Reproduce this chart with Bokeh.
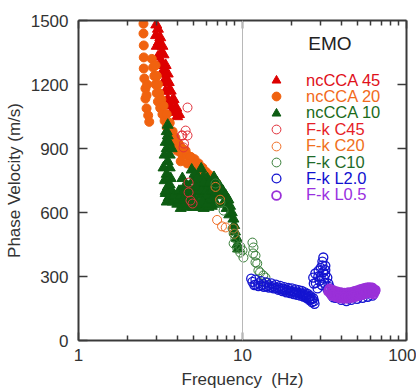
from bokeh.plotting import figure
from bokeh.models import (FixedTicker, LogAxis, LinearAxis, Span, Legend,
                          LegendItem, Label, CustomJSTickFormatter)
from bokeh.embed import file_html
from bokeh.resources import INLINE

# ---------------- data (frequency Hz, phase velocity m/s) ----------------
nc45_f = [2.98, 2.97, 3.0, 3.05, 3.1, 3.2, 3.3, 3.4, 3.5, 3.6, 3.7,
          3.05, 3.15, 3.25, 3.3, 3.4, 3.5, 3.55, 3.65, 3.8, 3.95, 4.1,
          3.1, 3.2, 3.25, 3.35, 3.45, 3.55, 3.7, 3.85, 4.0]
nc45_v = [1480, 1430, 1380, 1330, 1290, 1250, 1210, 1170, 1130, 1100, 1070,
          1460, 1420, 1380, 1340, 1290, 1250, 1210, 1170, 1130, 1090, 1060,
          1400, 1350, 1300, 1260, 1220, 1170, 1120, 1080, 1050]

nc20_f = [2.49, 2.49, 2.5, 2.5, 2.5, 2.52, 2.56, 2.56, 2.6, 2.66, 2.7, 2.6, 2.62,
          2.8, 2.85, 2.9, 2.95, 3.0, 3.05, 3.15, 3.25, 3.35, 3.45, 3.55, 3.7,
          3.85, 4.0, 4.2, 4.4, 4.6, 4.85, 5.1, 5.4, 5.7, 6.0, 6.3, 6.6, 6.9,
          2.95, 3.0, 3.05, 3.1, 3.2, 3.3, 3.45, 3.6, 3.75, 3.9, 4.1, 4.3, 4.5, 4.8,
          4.2, 4.6, 5.0, 5.4, 5.8, 6.2, 6.6, 7.0]
nc20_v = [1485, 1439, 1383, 1327, 1275, 1228, 1181, 1134, 1088, 1055, 1025, 1150, 1200,
          1320, 1280, 1240, 1200, 1160, 1120, 1090, 1060, 1030, 1000, 970, 940,
          910, 890, 880, 875, 870, 860, 850, 830, 810, 790, 775, 760, 740,
          1290, 1240, 1200, 1160, 1130, 1100, 1060, 1020, 980, 950, 920, 900, 890, 860,
          840, 830, 820, 800, 780, 760, 740, 720]

nc10_f = [3.5, 3.45, 3.5, 3.4, 3.55, 3.45, 3.35, 3.6, 3.5, 3.3, 3.6, 3.45, 3.35,
          3.65, 3.5, 3.4, 3.7, 3.55, 3.45, 3.75, 3.85,
          4.0, 4.2, 4.3, 4.5, 4.6, 4.7, 4.9, 5.0, 5.0, 5.2, 5.4, 5.6, 5.7, 5.9,
          6.1, 6.3, 6.5, 6.7, 6.8, 4.4, 5.5, 6.0, 6.9,
          4.1, 4.3, 4.5, 4.7, 4.8, 5.1, 5.3, 5.5, 5.8, 5.9, 6.2, 6.4, 6.6,
          4.2, 4.6, 5.0, 5.4, 5.8, 6.2, 6.6, 7.1, 7.4, 7.8, 8.0, 8.3, 7.6,
          4.0, 4.1, 4.2, 4.4, 4.6, 4.8, 4.9, 5.1, 5.2, 5.3, 5.5, 5.6, 5.8, 6.0,
          6.1, 6.3, 6.5, 6.7, 6.8, 4.4, 4.9, 5.3, 5.7, 6.1, 6.5, 3.6, 3.4, 3.7,
          7.0, 7.3, 7.6, 7.9, 8.2, 8.4, 8.6, 8.8, 8.9, 9.0, 9.2, 9.3, 9.4]
nc10_v = [1010, 980, 960, 930, 930, 900, 870, 870, 840, 810, 810, 780, 750,
          760, 720, 690, 700, 670, 650, 650, 680,
          650, 700, 640, 730, 680, 630, 800, 750, 700, 640, 760, 805, 720, 650,
          760, 700, 630, 765, 720, 640, 635, 635, 680,
          700, 760, 680, 720, 660, 780, 700, 740, 770, 700, 720, 680, 720,
          620, 625, 625, 625, 620, 625, 640, 700, 680, 650, 620, 590, 640,
          640, 660, 680, 700, 720, 700, 680, 660, 720, 760, 680, 700, 740, 700,
          680, 740, 700, 680, 650, 670, 640, 640, 650, 640, 660, 730, 700, 900,
          740, 720, 700, 680, 660, 630, 600, 570, 540, 510, 480, 450, 430]

fk45_f = [4.62, 4.5, 4.3, 4.62, 4.37, 4.4, 4.25, 4.69, 4.69, 4.82, 4.96]
fk45_v = [1092, 984, 961, 961, 905, 923, 961, 740, 694, 656, 642]

fk20_f = [6.85, 7.3, 7.0, 7.5, 7.9, 8.8, 8.9]
fk20_v = [720, 660, 565, 535, 530, 525, 500]

fk10_f = [6.85, 7.33, 7.67, 8.7, 8.83, 9.05, 8.83, 9.3, 9.7, 10.13, 10.0, 9.7,
          11.5, 11.66, 12.0, 12.3, 12.5, 13.4, 13.8, 13.8, 11.6, 12.0, 12.8]
fk10_v = [736, 647, 609, 525, 502, 478, 455, 431, 412, 389, 422, 440,
          459, 436, 398, 361, 328, 305, 295, 272, 408, 366, 319]

fkL2_f = [11.3, 12, 13, 14, 15, 16, 17, 18, 19, 20, 21, 22, 23, 24, 25, 26, 27,
          11.8, 12.5, 13.5, 14.5, 15.5, 16.5, 17.5, 18.5, 19.5, 20.5, 21.5, 22.5,
          23.5, 24.5, 25.5, 26.5, 27.5,
          11.5, 12.5, 13.5, 14.5, 15.5, 16.5, 17.5, 18.5, 19.5, 20.5, 21.5, 22.5,
          23.5, 24.5, 25.5, 26.5, 27.3,
          12, 13, 14, 15, 16, 17, 18, 19, 20, 21, 22, 23, 24, 25, 26,
          31.1, 30.7, 30.7, 29.1, 27.8, 27.0, 27.2, 28.7, 30, 31, 32, 32.9, 33.4,
          35.3, 35.8, 29.5, 30.5, 31.5, 34, 32, 30, 32, 29, 28, 33, 34.5, 31.5,
          37, 40, 43, 46, 50, 54, 58, 62, 40, 50]
fkL2_v = [290, 285, 278, 272, 268, 262, 256, 250, 246, 244, 240, 236, 232, 226, 218, 208, 198,
          260, 255, 252, 248, 244, 238, 232, 226, 222, 218, 214, 210,
          206, 200, 190, 180, 172,
          275, 268, 263, 258, 254, 248, 242, 238, 234, 230, 226, 222,
          218, 212, 204, 194, 185,
          262, 258, 254, 250, 246, 240, 235, 230, 228, 224, 220, 215, 208, 200, 192,
          389, 370, 352, 328, 314, 295, 267, 244, 300, 320, 330, 295, 267,
          234, 202, 280, 260, 290, 250, 310, 340, 350, 300, 270, 240, 220, 270,
          200, 190, 185, 190, 195, 200, 205, 210, 215, 215]

fkL05_f = [33.5, 34.5, 36, 37.5, 39, 40.5, 42, 44, 46, 48, 50, 52, 54, 56, 58, 60, 62, 64,
           34, 36, 38, 40, 42, 44, 46, 48, 50, 52, 54, 56, 58, 60, 62,
           35, 37, 39, 41, 43, 45, 47, 49, 51, 53, 55, 57, 59, 61, 63,
           33.8, 35.2, 36.8, 38.2, 39.8, 41.2, 42.8, 45, 47, 49, 51, 53, 55, 57,
           59, 61, 63, 64.5, 35.5, 38.5, 41.5, 44.5, 47.5, 50.5, 53.5, 56.5, 59.5, 62.5]
fkL05_v = [230, 225, 220, 215, 212, 210, 208, 210, 212, 215, 220, 225, 228, 232, 235, 236, 234, 230,
           242, 234, 228, 224, 222, 224, 226, 230, 234, 238, 242, 245, 248, 248, 246,
           212, 205, 200, 198, 198, 200, 202, 206, 210, 214, 218, 222, 224, 222, 218,
           236, 228, 222, 220, 216, 214, 214, 216, 218, 222, 226, 230, 234, 238,
           240, 240, 238, 236, 214, 206, 204, 204, 208, 214, 220, 228, 232, 226]

x_major = [1, 10, 100]
x_minor = [2, 3, 4, 5, 6, 7, 8, 9, 20, 30, 40, 50, 60, 70, 80, 90]
y_ticks = [0, 300, 600, 900, 1200, 1500]
y_right_ticks = [300, 600, 900, 1200]

labels = ["ncCCA 45", "ncCCA 20", "ncCCA 10", "F-k C45", "F-k C20",
          "F-k C10", "F-k L2.0", "F-k L0.5"]

# ---------------- style ----------------
FONT = "Liberation Sans"
AX = "#3a3a3a"
C45 = "#dd0000"
C20 = "#f0620f"
C10 = "#0d5c12"
O45 = "#e2303a"
O20 = "#f07028"
O10 = "#3a7f3a"
OL2 = "#1414d0"
OL05 = "#9a30d8"
text_colors = ["#e0101a", "#f26a1b", "#1b6b1b", "#e61e28", "#f07020",
               "#1f6b2a", "#1010d0", "#9a30e0"]

p = figure(x_axis_type="log", x_range=(1, 100), y_range=(0, 1500),
           frame_width=328, frame_height=320,
           min_border_left=78, min_border_right=10, min_border_top=20,
           min_border_bottom=48, output_backend="svg", toolbar_location=None,
           background_fill_color="white", border_fill_color="white")
p.outline_line_color = None
p.grid.visible = False

p.add_layout(Span(location=10, dimension="height", line_color="#b8b8b8",
                  line_width=1))

r1 = p.scatter(nc45_f, nc45_v, marker="triangle", size=11, color=C45)
r2 = p.scatter(nc20_f, nc20_v, marker="circle", size=9, color=C20)
r3 = p.scatter(nc10_f, nc10_v, marker="triangle", size=11, color=C10)
r4 = p.scatter(fk45_f, fk45_v, marker="circle", size=9, fill_color=None,
               line_color=O45, line_width=1)
r5 = p.scatter(fk20_f, fk20_v, marker="circle", size=9, fill_color=None,
               line_color=O20, line_width=1)
r6 = p.scatter(fk10_f, fk10_v, marker="circle", size=9, fill_color=None,
               line_color=O10, line_width=1)
r7 = p.scatter(fkL2_f, fkL2_v, marker="circle", size=9, fill_color=None,
               line_color=OL2, line_width=1.3)
r8 = p.scatter(fkL05_f, fkL05_v, marker="circle", size=9, fill_color=None,
               line_color=OL05, line_width=1.8)
renderers = [r1, r2, r3, r4, r5, r6, r7, r8]

# ---------------- axes ----------------
def style_axis(ax, show_labels):
    ax.axis_line_color = AX
    ax.axis_line_width = 2
    ax.major_tick_line_color = AX
    ax.minor_tick_line_color = AX
    ax.major_tick_line_width = 1.5
    ax.minor_tick_line_width = 1.5
    ax.major_tick_out = 0
    ax.minor_tick_out = 0
    ax.major_label_text_font = FONT
    ax.major_label_text_font_size = "17px"
    ax.major_label_text_color = "#333333"
    ax.axis_label_text_font = FONT
    ax.axis_label_text_font_size = "17px"
    ax.axis_label_text_font_style = "normal"
    ax.axis_label_text_color = "#333333"
    if not show_labels:
        ax.formatter = CustomJSTickFormatter(code="return ''")
        ax.major_label_standoff = 0

xa = p.xaxis[0]
xa.ticker = FixedTicker(ticks=x_major, minor_ticks=x_minor)
style_axis(xa, True)
xa.formatter = CustomJSTickFormatter(code="return tick.toString()")
xa.major_tick_in = 8
xa.minor_tick_in = 5
xa.major_label_standoff = 8
xa.axis_label = "Frequency\u00a0 (Hz)"
xa.axis_label_standoff = 6

ya = p.yaxis[0]
ya.ticker = FixedTicker(ticks=y_ticks)
style_axis(ya, True)
ya.major_tick_in = 9
ya.minor_tick_in = 0
ya.major_label_standoff = 10
ya.axis_label = "Phase Velocity (m/s)"
ya.axis_label_standoff = 4

top = LogAxis(ticker=FixedTicker(ticks=x_major, minor_ticks=x_minor))
style_axis(top, False)
top.major_tick_in = 8
top.minor_tick_in = 5
p.add_layout(top, "above")

right = LinearAxis(ticker=FixedTicker(ticks=y_right_ticks))
style_axis(right, False)
right.major_tick_in = 9
right.minor_tick_in = 0
p.add_layout(right, "right")

# ---------------- legend ----------------
p.add_layout(Label(x=25.2, y=1391, text="EMO", text_font=FONT,
                   text_font_size="19px", text_color="#222222",
                   text_baseline="middle", text_align="left"))

row0 = 260.0
step = 16.4
for i, (lab, r, col) in enumerate(zip(labels, renderers, text_colors)):
    leg = Legend(items=[LegendItem(label=lab, renderers=[r])],
                 location=(187, row0 - step * i - 11),
                 padding=0, margin=0, spacing=0,
                 border_line_color=None, background_fill_alpha=0,
                 glyph_width=22, glyph_height=22, label_height=22,
                 label_standoff=19, label_text_font=FONT,
                 label_text_font_size="16.5px", label_text_color=col,
                 label_text_baseline="middle")
    p.add_layout(leg)

open("out.html", "w").write(file_html(p, INLINE))
